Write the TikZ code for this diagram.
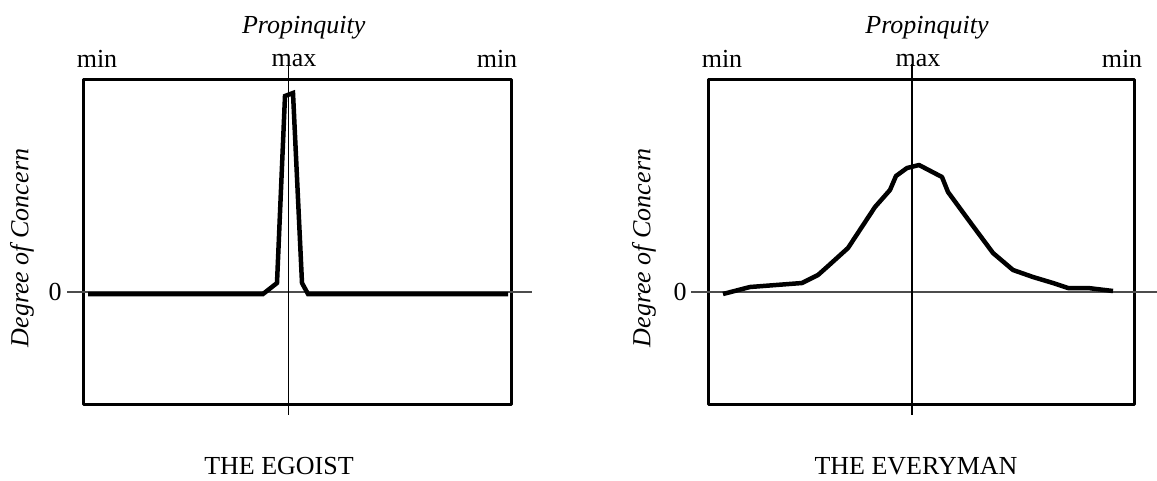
\documentclass[tikz,border=0pt]{standalone}
\usepackage{fontspec}
\setmainfont{Liberation Serif}
\tikzset{
  frame/.style={line width=3pt},
  zeroaxis/.style={line width=1.5pt,draw=black!70},
  maxaxis/.style={line width=1.2pt},
  curve/.style={line width=4.5pt,line join=miter},
}
\begin{document}
\begin{tikzpicture}[line join=round,x=1pt,y=-1pt,font=\fontsize{26}{31}\selectfont]
  \useasboundingbox (0,0) rectangle (1157,480);
  % the egoist
  \begin{scope}
    \def \xl{83}
    \def \xr{511}
    \def \xm{288.7}
    \def \yt{79}
    \def \yb{404}
    \def \yz{292}
    \draw[frame] (\xl,\yt) rectangle (\xr,\yb);
    \draw[zeroaxis] (67,\yz)--(532,\yz);
    \draw[maxaxis] (\xm,64)--(\xm,415);
    \draw[curve] plot coordinates {(88,294) (263,294) (277,283) (285,96) (293,93) (302,283) (308,294) (508,294)};
    \node[anchor=base] (propL) at (\xm+15,33) {\itshape Propinquity};
    \node[anchor=base] (minLa) at (97,67) {min};
    \node[anchor=base] (maxL) at (294,66) {max};
    \node[anchor=base] (minLb) at (497,67) {min};
    \node (zeroL) at (55,291.5) {0};
    \node[rotate=90] (degL) at (22,248) {\itshape Degree of Concern};
    \node[anchor=base] (titleL) at (279,474) {THE EGOIST};
  \end{scope}
  % the everyman
  \begin{scope}
    \def \xl{708}
    \def \xr{1134}
    \def \xm{912}
    \def \yt{79}
    \def \yb{404}
    \def \yz{292}
    \draw[frame] (\xl,\yt) rectangle (\xr,\yb);
    \draw[zeroaxis] (691,\yz)--(1157,\yz);
    \draw[maxaxis] (\xm,64)--(\xm,415);
    \draw[curve,line join=round] plot coordinates {(723,294) (750,287) (802,283) (818,275) (827,267) (848,248) (875,207) (890,190) (896,176) (907,168) (919,165) (942,177) (948,192) (970,222) (993,253) (1013,270) (1033,277) (1053,283) (1068,288) (1088,288) (1113,291)};
    \node[anchor=base] (propR) at (\xm+15,33) {\itshape Propinquity};
    \node[anchor=base] (minRa) at (722,67) {min};
    \node[anchor=base] (maxR) at (918,66) {max};
    \node[anchor=base] (minRb) at (1122,67) {min};
    \node (zeroR) at (680,291.5) {0};
    \node[rotate=90] (degR) at (644,248) {\itshape Degree of Concern};
    \node[anchor=base] (titleR) at (916,474) {THE EVERYMAN};
  \end{scope}
\end{tikzpicture}
\end{document}
